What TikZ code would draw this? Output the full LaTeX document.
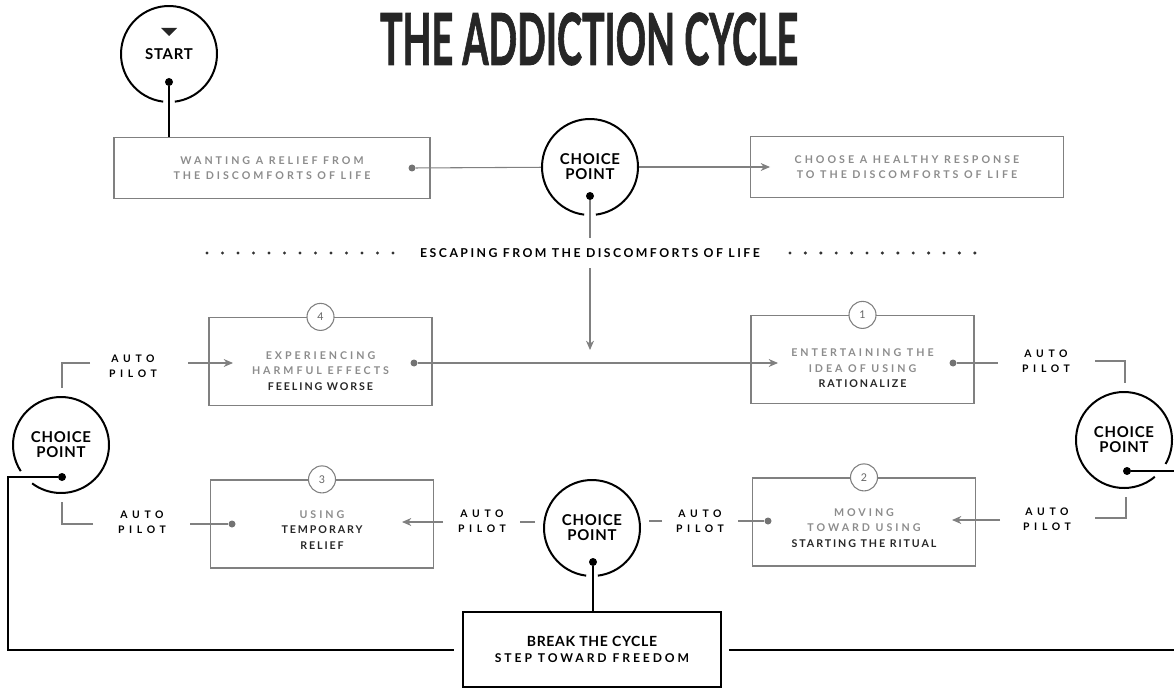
\documentclass[tikz,border=0pt]{standalone}
\usepackage{fontspec}
\usepackage{graphicx}
\setmainfont{Lato}
\newfontfamily\faintface{Lato}[LetterSpace=28]
\newfontfamily\firmface{Lato}[LetterSpace=18]
\newfontfamily\pilotface{Lato}[LetterSpace=45]
\newfontfamily\escface{Lato}[LetterSpace=20]
\newfontfamily\stepface{Lato}[LetterSpace=24]
\newfontfamily\chface{Lato}[LetterSpace=5]
\newfontfamily\titleface{Lato}[FakeBold=1.5]
\usetikzlibrary{arrows.meta,positioning}

\newcommand\faint[1]{{\faintface\bfseries\color{black!45}#1}}
\newcommand\firm[1]{{\firmface\bfseries\color{black!85}#1}}

\begin{document}
\begin{tikzpicture}[x=0.75pt, y=-0.75pt,
    conn/.style     = {draw=black!50, line width=0.8pt},
    heavy/.style    = {draw=black, line width=1.5pt},
    ring/.style     = {draw=black, line width=1.5pt},
    tip/.style      = {-{Stealth[length=7pt, width=6pt]}},
    frame/.style    = {draw=black!50, line width=0.9pt, inner sep=0pt},
    stage/.style    = {frame, minimum width=223*0.75pt, minimum height=88*0.75pt},
    stagetxt/.style = {align=center, font=\fontsize{8}{11.5}\selectfont},
    num/.style      = {circle, draw=black!50, fill=white, line width=0.8pt,
                       minimum size=27*0.75pt, inner sep=0pt,
                       font=\fontsize{8}{8}\selectfont, text=black!60},
    gdot/.style     = {circle, fill=black!55, minimum size=7*0.75pt, inner sep=0pt},
    bdot/.style     = {circle, fill=black, minimum size=8*0.75pt, inner sep=0pt},
    choice/.style   = {circle, minimum size=96*0.75pt, inner sep=0pt, align=center,
                       font=\chface\bfseries\fontsize{11.2}{11.3}\selectfont},
    pilot/.style    = {align=center, font=\pilotface\bfseries\fontsize{7.8}{11}\selectfont},
  ]
  \useasboundingbox (0,0) rectangle (1174,688);
  \clip (0,0) rectangle (1174,688);

  % title
  \node[inner sep=0pt, text=black!85] (title) at (589,39)
    {\resizebox{313.5pt}{39pt}{\titleface\bfseries THE ADDICTION CYCLE}};

  % start
  \node[choice] (start) at (169,54) {START};
  \fill[black!85] ([shift={(-8,-26)}]start.center) -- ++(16,0) -- ++(-8,8) -- cycle;
  \node[bdot] (sdot) at (169,82) {};

  % top row
  \node[frame, stagetxt, minimum width=316*0.75pt, minimum height=61*0.75pt] (want) at (272,168)
    {\faint{WANTING A RELIEF FROM}\\\faint{THE DISCOMFORTS OF LIFE}};
  \node[gdot] (wdot) at (412,168) {};
  \node[choice] (cpT) at (590,167) {CHOICE\\POINT};
  \node[bdot] (cdot) at (590,196) {};
  \node[frame, stagetxt, minimum width=313*0.75pt, minimum height=61*0.75pt] (calm) at (907,167)
    {\faint{CHOOSE A HEALTHY RESPONSE}\\\faint{TO THE DISCOMFORTS OF LIFE}};
  \coordinate (calmtip) at (770,167);
  \draw[heavy] (sdot) -- (sdot |- want.north);
  \draw[conn] (wdot) -- (cpT);
  \draw[conn, tip] (cpT) -- (calmtip);

  % escaping
  \coordinate (downtip) at (590,350);
  \draw[conn, tip] (cdot) -- (downtip);
  \node[fill=white, inner xsep=3pt, inner ysep=8pt,
        font=\escface\bfseries\fontsize{9.2}{9}\selectfont] (escape) at (590,253)
    {ESCAPING FROM THE DISCOMFORTS OF LIFE};
  \foreach \i in {0,...,12} {
    \fill[black!80] (207+15.5*\i,253) circle (1.7);
    \fill[black!80] (790+15.4*\i,253) circle (1.7);
  }

  % stages 4 and 1
  \node[stage] (b4) at (320.5,361.5) {};
  \node[num] (n4) at (b4.north) {4};
  \node[stagetxt, yshift=-7pt] (t4) at (b4.center)
    {\faint{EXPERIENCING}\\\faint{HARMFUL EFFECTS}\\\firm{FEELING WORSE}};
  \node[gdot] (d4) at (414,363) {};
  \node[stage] (b1) at (862.5,359.5) {};
  \node[num] (n1) at (b1.north) {1};
  \node[stagetxt, yshift=-6.5pt] (t1) at (b1.center)
    {\faint{ENTERTAINING THE}\\\faint{IDEA OF USING}\\\firm{RATIONALIZE}};
  \node[gdot] (d1) at (953,363) {};
  \coordinate (b1tip) at (778,363);
  \draw[conn, tip] (d4) -- (b1tip);

  % stages 2 and 3
  \node[stage] (b2) at (864,522) {};
  \node[num] (n2) at (b2.north) {2};
  \node[stagetxt, yshift=-4.5pt] (t2) at (b2.center)
    {\faint{MOVING}\\\faint{TOWARD USING}\\\firm{STARTING THE RITUAL}};
  \node[gdot] (d2) at (768,521) {};
  \node[stage] (b3) at (322,524) {};
  \node[num] (n3) at (b3.north) {3};
  \node[stagetxt, yshift=-4.5pt] (t3) at (b3.center)
    {\faint{USING}\\\firm{TEMPORARY}\\\firm{RELIEF}};
  \node[gdot] (d3) at (232,524) {};

  % choice points
  \node[choice] (cpL) at (61,445) {CHOICE\\POINT};
  \node[choice] (cpR) at (1124,440) {CHOICE\\POINT};
  \node[choice] (cpC) at (592,528) {CHOICE\\POINT};
  \foreach \n/\a/\b in {start/97/443, cpT/97/443, cpC/97/443, cpL/147/487, cpR/50/390}
    \draw[ring] (\n.center) ++(\a:48) arc[start angle=\a, end angle=\b, radius=48];
  \node[bdot] (dL) at (62,477) {};
  \node[bdot] (dR) at (1127,471) {};
  \node[bdot] (dC) at (593,562) {};

  % auto pilot
  \node[pilot] (ap1) at (133,366) {AUTO\\PILOT};
  \node[pilot] (ap2) at (1046,361) {AUTO\\PILOT};
  \node[pilot] (ap3) at (1047,519) {AUTO\\PILOT};
  \node[pilot] (ap4) at (700,521) {AUTO\\PILOT};
  \node[pilot] (ap5) at (482,521) {AUTO\\PILOT};
  \node[pilot] (ap6) at (142,522) {AUTO\\PILOT};

  % thin links
  \coordinate (k1a) at (90,363);   \coordinate (k1b) at (62,388);
  \coordinate (k2a) at (1095,361); \coordinate (k2b) at (1125,383);
  \coordinate (k3a) at (1095,518); \coordinate (k3b) at (1126,497);
  \coordinate (k4a) at (93,524);   \coordinate (k4b) at (62,502);
  \draw[conn] (k1a) -| (k1b);
  \draw[conn] (k2a) -| (k2b);
  \draw[conn] (k3a) -| (k3b);
  \draw[conn] (k4a) -| (k4b);
  \coordinate (a1s) at (188,363);  \coordinate (a1e) at (233,363);
  \draw[conn, tip] (a1s) -- (a1e);
  \coordinate (l1) at (998,363);
  \draw[conn] (d1) -- (l1);
  \coordinate (a3s) at (1000,520); \coordinate (a3e) at (952,520);
  \draw[conn, tip] (a3s) -- (a3e);
  \coordinate (l2) at (738,521);
  \draw[conn] (d2) -- (l2);
  \coordinate (s1a) at (662,521);  \coordinate (s1b) at (649,521);
  \draw[conn] (s1a) -- (s1b);
  \coordinate (s2a) at (535,522);  \coordinate (s2b) at (520,522);
  \draw[conn] (s2a) -- (s2b);
  \coordinate (a5s) at (443,522);  \coordinate (a5e) at (402,522);
  \draw[conn, tip] (a5s) -- (a5e);
  \coordinate (l3) at (190,524);
  \draw[conn] (d3) -- (l3);

  % break the cycle
  \node[draw, line width=1.9pt, minimum width=258*0.75pt, minimum height=75*0.75pt,
        align=center, font=\chface\bfseries\fontsize{10.5}{12}\selectfont] (exit) at (592,649.5)
    {BREAK THE CYCLE\\{\stepface\fontsize{9.1}{12}\selectfont STEP TOWARD FREEDOM}};
  \coordinate (lc) at (8,477);
  \coordinate (rc) at (1180,471);
  \draw[heavy] (dC) -- (dC |- exit.north);
  \draw[heavy] (dL) -- (lc) |- ([xshift=-6pt]exit.west);
  \draw[heavy] (dR) -- (rc) |- ([xshift=5pt]exit.east);
\end{tikzpicture}
\end{document}
